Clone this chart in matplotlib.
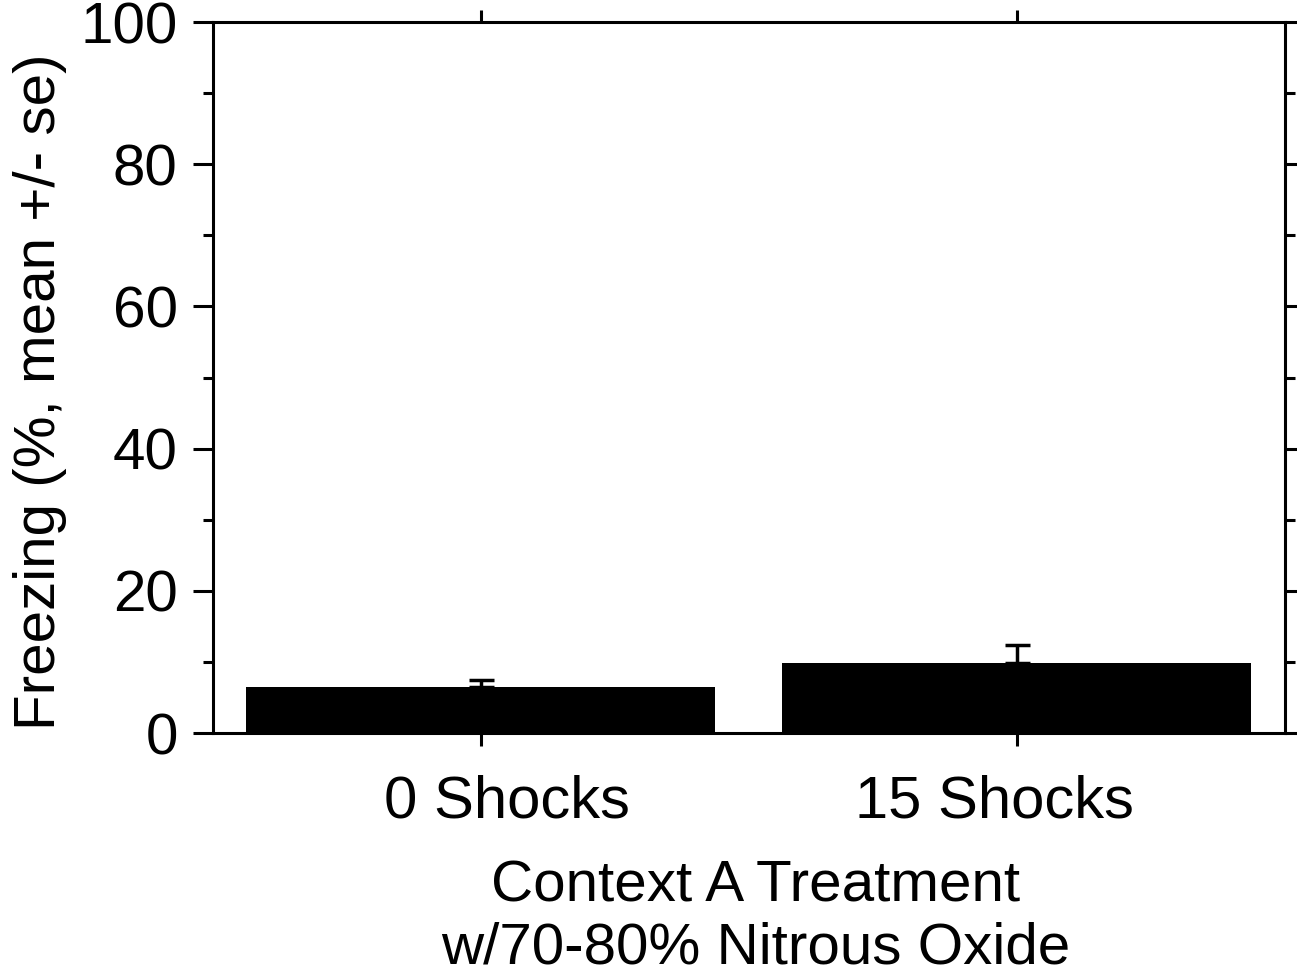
import matplotlib
matplotlib.use("Agg")
from matplotlib import pyplot as plt
from matplotlib.ticker import MultipleLocator
from matplotlib.transforms import ScaledTranslation

plt.rcParams["font.family"] = ["Liberation Sans", "DejaVu Sans"]

groups = ["0 Shocks", "15 Shocks"]
freezing = [6.5, 9.9]
se = [1.0, 2.5]

fig = plt.figure(figsize=(12.97, 9.74), dpi=100)
ax = fig.add_axes([0.1642, 0.2474, 0.9907 - 0.1642, 0.9774 - 0.2474])

x = list(range(len(groups)))
ax.bar(x, freezing, width=0.875, color="black", zorder=2)
ax.errorbar(x, freezing, yerr=[[0, 0], se], fmt="none", ecolor="black",
            elinewidth=2.5, capsize=9, capthick=2.5, zorder=3)

ax.set_xlim(-0.5, 1.5)
ax.set_ylim(0, 100)
ax.set_xticks(x)
ax.set_xticklabels(groups)
ax.yaxis.set_major_locator(MultipleLocator(20))
ax.yaxis.set_minor_locator(MultipleLocator(10))

for s in ax.spines.values():
    s.set_linewidth(2.2)

ax.tick_params(axis="both", which="both", direction="out", width=2.2,
               labelsize=42)
ax.tick_params(axis="y", which="major", length=14.4, left=True, right=True, pad=11)
ax.tick_params(axis="y", which="minor", length=7, left=True, right=True)
ax.tick_params(axis="x", which="major", length=9, top=True, bottom=True, pad=21,
               labelsize=43)

# the category labels sit a bit inward of their ticks in the original
for lbl, dx in zip(ax.get_xticklabels(), [0.26, -0.23]):
    lbl.set_transform(lbl.get_transform() + ScaledTranslation(dx, 0, fig.dpi_scale_trans))

ax.set_ylabel("Freezing (%, mean +/- se)", fontsize=42, va="center")
ax.yaxis.set_label_coords(-0.161, 0.48)
ax.set_xlabel("Context A Treatment\nw/70-80% Nitrous Oxide", fontsize=42,
              linespacing=1.2)
ax.xaxis.set_label_coords(0.506, -0.178)

fig.savefig("out.png", dpi=100)
